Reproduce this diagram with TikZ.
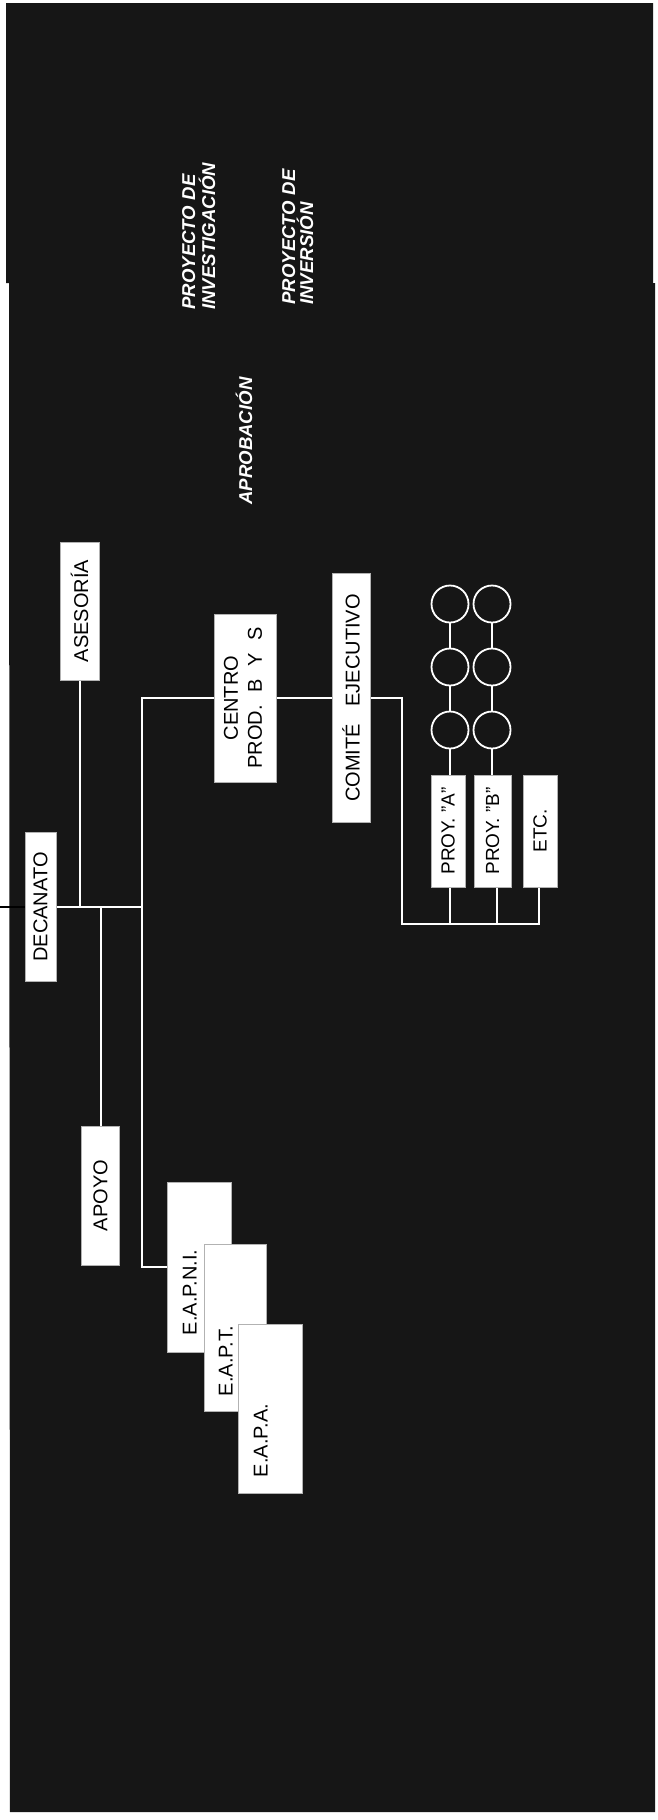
\documentclass[tikz,border=0pt]{standalone}
\usepackage{fontspec}
\setmainfont{Liberation Sans}
\definecolor{bg}{RGB}{22,22,22}
\begin{document}
\begin{tikzpicture}[x=0.5pt,y=-0.5pt,
  wire/.style={white, line width=1pt},
  box/.style={draw=gray!60, fill=white, line width=0.5pt, inner sep=0pt, text=black, font=\fontsize{10}{12}\selectfont},
  smallbox/.style={box, font=\fontsize{9.5}{11}\selectfont},
  toplab/.style={rotate=90, anchor=base west, inner sep=0pt, text=white, font=\fontsize{9.3}{11}\selectfont\bfseries\itshape},
  eaplab/.style={rotate=90, anchor=base west, inner sep=0pt, text=black, font=\fontsize{10}{12}\selectfont},
  ring/.style={circle, draw=white, line width=0.9pt, minimum size=18.5pt, inner sep=0pt}]
\useasboundingbox (0,0) rectangle (658,1820);
\fill[white] (0,0) rectangle (658,1820);
\fill[bg] (6,3) -- (653,3) -- (653,283) -- (655,283) -- (655,1812) -- (10,1812) -- (9,283) -- (6,283) -- cycle;

% top labels
\node[toplab] (l1) at (195,310) {PROYECTO DE};
\node[toplab] (l2) at (215,310) {INVESTIGACIÓN};
\node[toplab] (l3) at (295,305) {PROYECTO DE};
\node[toplab] (l4) at (313,305) {INVERSIÓN};
\node[toplab] (l5) at (252,505) {APROBACIÓN};

% boxes
\node[box, minimum width=19.5pt, minimum height=69pt] (asesoria) at (79.5,611) {\rotatebox{90}{ASESORÍA}};
\node[box, minimum width=15.5pt, minimum height=74.5pt] (decanato) at (40.5,907) {\rotatebox{90}{DECANATO}};
\node[box, minimum width=19pt, minimum height=69.5pt] (apoyo) at (100.5,1195.5) {\rotatebox{90}{APOYO}};
\node[box, minimum width=31pt, minimum height=84pt] (centro) at (245,698) {\rotatebox{90}{\begin{tabular}{@{}c@{}}CENTRO\\PROD.\hspace{6.3pt}B\hspace{6.3pt}Y\hspace{6.3pt}S\end{tabular}}};
\node[box, minimum width=19pt, minimum height=124.5pt] (comite) at (351,698) {\rotatebox{90}{COMITÉ\hspace{8.8pt}EJECUTIVO}};
\node[smallbox, minimum width=17pt, minimum height=56pt] (proya) at (448,831) {\rotatebox{90}{PROY. "A"}};
\node[smallbox, minimum width=18.5pt, minimum height=56pt] (proyb) at (492.5,831) {\rotatebox{90}{PROY. "B"}};
\node[smallbox, minimum width=17pt, minimum height=56pt] (etc) at (540,831) {\rotatebox{90}{ETC.}};

\node[box, minimum width=32pt, minimum height=85pt] (eapni) at (199,1267) {};
\node[eaplab] (teapni) at ([shift={(30,-17)}]eapni.south west) {E.A.P.N.I.};
\node[box, minimum width=31pt, minimum height=83.5pt] (eapt) at (235,1327.5) {};
\node[eaplab] (teapt) at ([shift={(29,-15)}]eapt.south west) {E.A.P.T.};
\node[box, minimum width=32pt, minimum height=84.5pt] (eapa) at (270,1408.5) {};
\node[eaplab] (teapa) at ([shift={(30,-16)}]eapa.south west) {E.A.P.A.};

% circles
\node[ring] (ca1) at (450,604) {};
\node[ring] (ca2) at (450,667) {};
\node[ring] (ca3) at (450,730) {};
\node[ring] (cb1) at (492,604) {};
\node[ring] (cb2) at (492,667) {};
\node[ring] (cb3) at (492,730) {};

% connectors
\coordinate (offl) at (0,907);
\coordinate (j3) at (142,907);
\coordinate (bus) at (402,924);
\draw[black, line width=1pt] (offl) -- (decanato.west);
\draw[wire] (decanato.east) -- (j3);
\draw[wire] (asesoria.south) -- (asesoria.south |- j3);
\draw[wire] (apoyo.north) -- (apoyo.north |- j3);
\draw[wire] (centro.west) -- (centro.west -| j3) -- (j3 |- eapni.west) -- (eapni.west);
\draw[wire] (centro.east) -- (comite.west);
\coordinate (pa) at ([xshift=1pt]proya.south);
\coordinate (pb) at ([xshift=2.3pt]proyb.south);
\coordinate (pe) at ([xshift=-0.5pt]etc.south);
\draw[wire] (comite.east) -- (comite.east -| bus) -- (bus) -- (pe |- bus) -- (pe);
\draw[wire] (pa) -- (pa |- bus);
\draw[wire] (pb) -- (pb |- bus);
\draw[wire] (ca1.south) -- (ca2.north);
\draw[wire] (ca2.south) -- (ca3.north);
\draw[wire] (ca3.south) -- (ca3.south |- proya.north);
\draw[wire] (cb1.south) -- (cb2.north);
\draw[wire] (cb2.south) -- (cb3.north);
\draw[wire] (cb3.south) -- (cb3.south |- proyb.north);
\end{tikzpicture}
\end{document}
